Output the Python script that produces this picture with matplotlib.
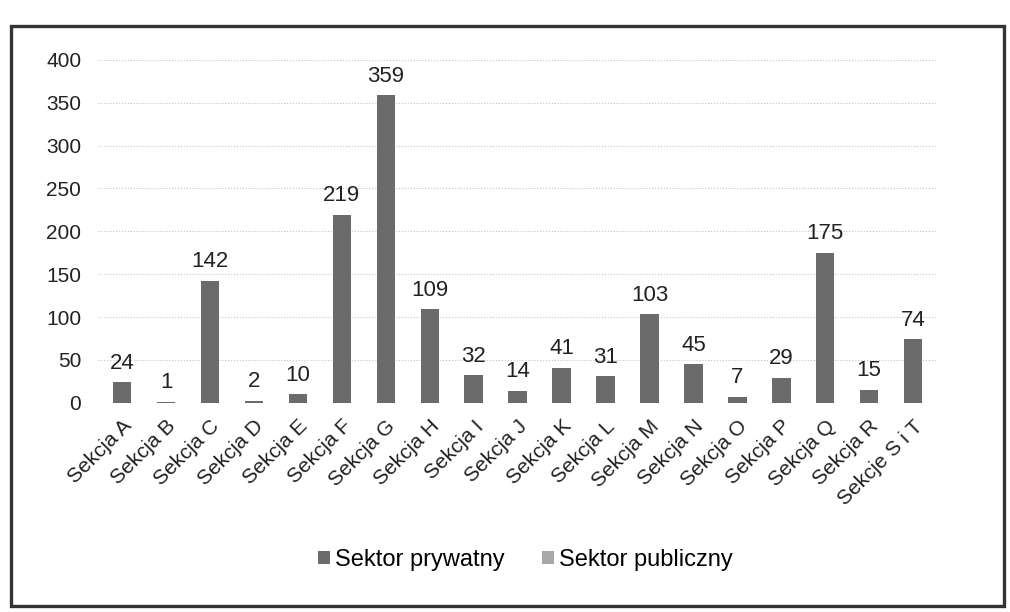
import numpy as np
import matplotlib; matplotlib.use("Agg")
import matplotlib.pyplot as plt
from matplotlib.patches import Rectangle

plt.rcParams["font.family"] = ["Liberation Sans", "DejaVu Sans"]

sekcje = ["Sekcja A", "Sekcja B", "Sekcja C", "Sekcja D", "Sekcja E", "Sekcja F",
          "Sekcja G", "Sekcja H", "Sekcja I", "Sekcja J", "Sekcja K", "Sekcja L",
          "Sekcja M", "Sekcja N", "Sekcja O", "Sekcja P", "Sekcja Q", "Sekcja R",
          "Sekcje S i T"]
prywatny = [24, 1, 142, 2, 10, 219, 359, 109, 32, 14, 41, 31, 103, 45, 7, 29, 175, 15, 74]
publiczny = [0] * len(sekcje)

fig = plt.figure(figsize=(10.1, 6.12), dpi=100)
# ramka wokol wykresu
fig.patches.append(Rectangle((0.011, 0.01), 0.983, 0.948, transform=fig.transFigure,
                             fill=False, lw=2.4, ec="#333333"))
ax = fig.add_axes([0.097, 0.342, 0.831, 0.56])
x = np.arange(len(sekcje))
ax.bar(x, prywatny, width=0.42, color="#6b6b6b", label="Sektor prywatny")
ax.bar(x, publiczny, width=0.42, color="#a8a8a8", label="Sektor publiczny")
for xi, v in zip(x, prywatny):
    ax.text(xi, v + 10, str(v), ha="center", va="bottom", fontsize=16, color="#222222")
ax.set_xlim(-0.55, len(sekcje) - 0.45)
ax.set_ylim(0, 400)
ax.set_yticks(range(0, 401, 50))
ax.set_xticks(x)
ax.set_xticklabels(sekcje, rotation=45, ha="right", rotation_mode="anchor", fontsize=15)
ax.tick_params(length=0, labelsize=15, colors="#222222")
ax.tick_params(axis="x", pad=10)
ax.tick_params(axis="y", pad=12)
ax.grid(axis="y", ls=":", color="#c4c4c4", lw=0.8)
ax.set_axisbelow(True)
for s in ax.spines.values():
    s.set_visible(False)
fig.legend(loc="center", bbox_to_anchor=(0.52, 0.085), ncol=2, frameon=False, fontsize=17,
           handlelength=0.5, handleheight=0.5, handletextpad=0.2, columnspacing=1.6)
fig.savefig("out.png", dpi=100)
